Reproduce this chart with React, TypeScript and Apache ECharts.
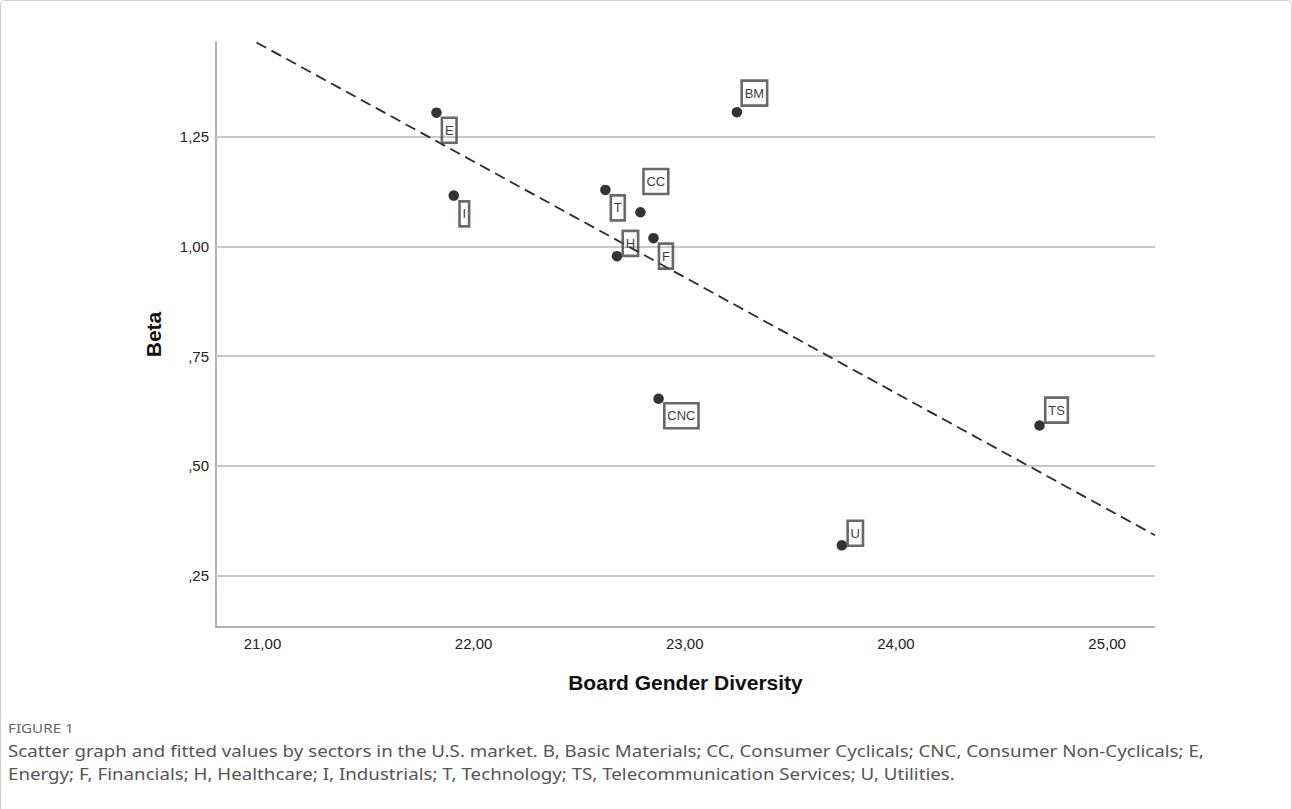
import React, { useEffect, useRef } from "react";
import * as echarts from "echarts";

// Sector codes and values
const sectors = ["E", "I", "T", "CC", "F", "H", "CNC", "BM", "TS", "U"];
const diversity = [21.824, 21.906, 22.624, 22.79, 22.852, 22.679, 22.876, 23.247, 24.68, 23.744];
const beta = [1.305, 1.116, 1.129, 1.078, 1.019, 0.978, 0.653, 1.306, 0.592, 0.319];

// Fitted line end points
const fitX = [20.972, 25.227];
const fitY = [1.465, 0.342];

// Tick values
const xTicks = [21, 22, 23, 24, 25];
const yTicks = [0.25, 0.5, 0.75, 1.0, 1.25];

const captionTitle = "FIGURE 1";
const captionLines = [
  "Scatter graph and fitted values by sectors in the U.S. market. B, Basic Materials; CC, Consumer Cyclicals; CNC, Consumer Non-Cyclicals; E,",
  "Energy; F, Financials; H, Healthcare; I, Industrials; T, Technology; TS, Telecommunication Services; U, Utilities.",
];

// Label placement (style only)
const labelPlacement: Record<string, { pos: [number, number]; va: string }> = {
  E: { pos: [10.7, 10.3], va: "top" },
  I: { pos: [11, 11], va: "top" },
  T: { pos: [10.7, 10.7], va: "top" },
  CC: { pos: [8.3, -13], va: "bottom" },
  F: { pos: [10.7, 10.7], va: "top" },
  H: { pos: [11, 5], va: "bottom" },
  CNC: { pos: [11, 9.7], va: "top" },
  BM: { pos: [10, -1.3], va: "bottom" },
  TS: { pos: [11, 2.3], va: "bottom" },
  U: { pos: [11, 5.6], va: "bottom" },
};

const fmtX = (v: number) => v.toFixed(2).replace(".", ",");
const fmtY = (v: number) => {
  const s = v.toFixed(2).replace(".", ",");
  return s.startsWith("0") ? s.slice(1) : s;
};

export default function App() {
  const ref = useRef<HTMLDivElement>(null);
  useEffect(() => {
    if (!ref.current) return;
    const chart = echarts.init(ref.current, null, { renderer: "svg" });
    const axisFont = "Liberation Sans, Arial, sans-serif";
    const option: any = {
      animation: false,
      backgroundColor: "#ffffff",
      grid: { left: 216, top: 42, right: 137, bottom: 182, containLabel: false },
      xAxis: {
        type: "value",
        min: 20.78,
        max: 25.227,
        name: "Board Gender Diversity",
        nameLocation: "middle",
        nameGap: 45,
        nameTextStyle: { fontFamily: axisFont, fontWeight: "bold", fontSize: 21, color: "#111" },
        axisLine: { show: true, lineStyle: { color: "#999", width: 1.5 } },
        axisTick: { show: false, customValues: xTicks },
        splitLine: { show: false },
        axisLabel: {
          customValues: xTicks,
          formatter: (v: number) => fmtX(v),
          margin: 9,
          fontFamily: axisFont,
          fontSize: 15,
          color: "#222",
        },
      },
      yAxis: {
        type: "value",
        min: 0.133,
        max: 1.466,
        name: "Beta",
        nameLocation: "middle",
        nameGap: 52,
        nameTextStyle: { fontFamily: axisFont, fontWeight: "bold", fontSize: 21, color: "#111" },
        axisLine: { show: true, lineStyle: { color: "#999", width: 1.5 } },
        axisTick: { show: false, customValues: yTicks },
        splitLine: { show: false },
        axisLabel: {
          customValues: yTicks,
          formatter: (v: number) => fmtY(v),
          margin: 7,
          fontFamily: axisFont,
          fontSize: 15,
          color: "#222",
        },
      },
      series: [
        {
          type: "line",
          data: fitX.map((x, i) => [x, fitY[i]]),
          symbol: "none",
          lineStyle: { color: "#2a2a2a", width: 1.8, type: [11, 6] },
          silent: true,
          z: 3,
          markLine: {
            silent: true,
            symbol: "none",
            label: { show: false },
            lineStyle: { color: "#c8c8c8", width: 2, type: "solid" },
            data: yTicks.map((v) => ({ yAxis: v })),
            z: 1,
          },
        },
        {
          type: "scatter",
          symbol: "circle",
          symbolSize: 10.5,
          itemStyle: { color: "#000" },
          z: 4,
          data: sectors.map((s, i) => ({
            name: s,
            value: [diversity[i], beta[i]],
            label: {
              show: true,
              formatter: s,
              position: labelPlacement[s].pos,
              align: "left",
              verticalAlign: labelPlacement[s].va,
              fontFamily: axisFont,
              fontSize: 13,
              lineHeight: 13,
              color: "#000",
              padding: [6, 3],
              borderColor: "#444",
              borderWidth: 1.3,
              backgroundColor: "transparent",
            },
          })),
        },
      ],
      graphic: [
        {
          type: "rect",
          silent: true,
          z: 0,
          shape: { x: 0.5, y: 0.5, width: 1291, height: 900, r: 4 },
          style: { fill: "none", stroke: "#cfcfcf", lineWidth: 1 },
        },
        {
          type: "text",
          silent: true,
          x: 8,
          y: 728,
          scaleX: 1.17,
          style: {
            text: captionTitle,
            font: "13px 'Noto Sans', sans-serif",
            fill: "#666",
            verticalAlign: "middle",
            textVerticalAlign: "middle",
          },
        },
        ...captionLines.map((t, i) => ({
          type: "text",
          silent: true,
          x: 8,
          y: 751 + i * 23,
          scaleX: 1.17,
          style: {
            text: t,
            font: "16px 'Noto Sans', sans-serif",
            fill: "#555",
            verticalAlign: "middle",
            textVerticalAlign: "middle",
          },
        })),
      ],
    };
    chart.setOption(option);
    return () => chart.dispose();
  }, []);
  return (
    <div
      ref={ref}
      style={{ position: "absolute", left: 0, top: 0, width: 1292, height: 809 }}
    />
  );
}
